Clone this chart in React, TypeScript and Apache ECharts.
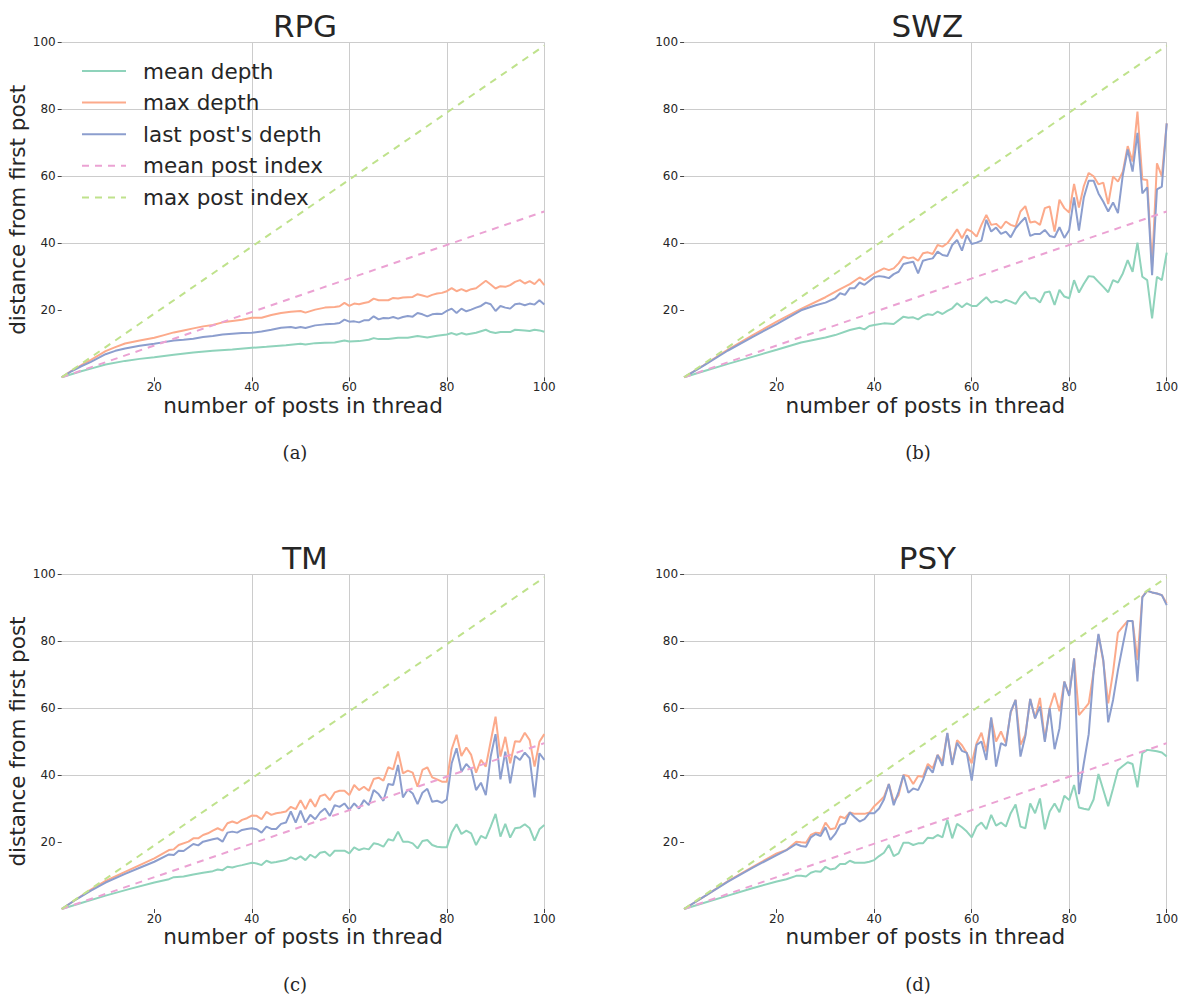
import React, { useEffect, useRef } from "react";
import * as echarts from "echarts";

type Pt = [number, number];

const PANEL_TITLES = ["RPG", "SWZ", "TM", "PSY"];
const PANEL_LETTERS = ["(a)", "(b)", "(c)", "(d)"];
const SERIES_NAMES = ["mean depth", "max depth", "last post's depth", "mean post index", "max post index"];
const X_TICKS = [20, 40, 60, 80, 100];
const Y_TICKS = [20, 40, 60, 80, 100];

// dashed reference lines (endpoints)
const meanPostIndex: Pt[] = [[1, 0], [100, 49.5]];
const maxPostIndex: Pt[] = [[1, 0], [100, 99]];

// ---- RPG ----
const rpgMean: Pt[] = [[1,0],[3,0.9],[5,1.8],[7,2.6],[10,3.8],[14,4.9],[17,5.5],[20,6],[24,6.7],[28,7.4],[32,7.9],[36,8.3],[40,8.8],[43,9.1],[47,9.6],[50,10],[51,9.8],[53,10.2],[55,10.3],[57,10.4],[59,11],[60,10.7],[62,10.8],[64,11.2],[65,11.7],[66,11.4],[68,11.4],[70,11.8],[72,11.8],[74,12.3],[76,11.9],[78,12.4],[80,12.8],[81,13.2],[82,12.7],[83,13.2],[84,12.8],[86,13.3],[88,14.2],[89,13.5],[90,13.2],[91,13.5],[93,13.5],[94,14.2],[96,14],[97,13.8],[98,14.2],[99,14],[100,13.6]];
const rpgMax: Pt[] = [[1,0],[3,1.9],[5,3.6],[7,5.2],[10,7.8],[12,9],[14,10.1],[17,11],[20,11.8],[22,12.6],[24,13.4],[26,14],[28,14.6],[30,15.2],[32,15.6],[34,16.4],[36,16.8],[38,17.2],[40,17.8],[42,17.8],[44,18.6],[46,19.2],[48,19.6],[50,19.8],[51,19.3],[53,20.2],[55,20.8],[57,21],[58,21.2],[59,22.2],[60,21.3],[61,22],[62,21.8],[63,22.2],[64,22.5],[65,23.5],[66,23],[67,23],[68,23],[69,23.7],[70,23.5],[71,23.8],[72,23.9],[73,24],[74,24.8],[75,24.4],[76,24],[77,24.6],[78,25],[79,25.2],[80,25.7],[81,26.6],[82,25.7],[83,26.3],[84,25.7],[85,26.3],[86,26.6],[87,27.7],[88,28.8],[89,27.7],[90,26.5],[91,27.2],[92,27],[93,27.5],[94,28.5],[95,29],[96,28],[97,28.7],[98,27.8],[99,29.3],[100,27.5]];
const rpgLast: Pt[] = [[1,0],[3,1.8],[5,3.3],[7,4.6],[10,6.9],[12,7.9],[14,8.6],[17,9.4],[20,10],[22,10.5],[24,11],[26,11.2],[28,11.5],[30,12],[32,12.3],[34,12.8],[36,13],[38,13.2],[40,13.3],[42,13.7],[44,14.2],[46,14.8],[48,15],[49,14.7],[50,15],[51,14.7],[53,15.5],[55,15.8],[57,16],[58,16.2],[59,17.2],[60,16.6],[61,16.7],[62,16.4],[63,17],[64,17],[65,18.2],[66,17.3],[67,17.7],[68,17.6],[69,18],[70,17.5],[71,18],[72,18.3],[73,18.1],[74,19.2],[75,18.8],[76,18.2],[77,18.8],[78,19],[79,18.9],[80,19.8],[81,20.5],[82,19.2],[83,20.5],[84,19.7],[85,20.2],[86,20.8],[87,21.3],[88,22.3],[89,21.8],[90,19.8],[91,21.3],[92,20.8],[93,20.5],[94,21.8],[95,22],[96,21.5],[97,22],[98,21.7],[99,23],[100,21.7]];

// ---- SWZ ----
const swzMean: Pt[] = [[1,0],[5,1.8],[10,4],[15,6.1],[20,8.2],[25,10.4],[30,11.9],[32,12.6],[35,14.1],[37,14.8],[38,14.3],[39,15.3],[40,15.6],[42,16.1],[44,15.9],[46,18.1],[47,17.8],[48,17.9],[49,17.3],[50,18.3],[51,18.8],[52,18.6],[53,19.6],[54,18.9],[55,19.8],[56,20.6],[57,22.1],[58,20.9],[59,22.1],[60,21.3],[61,21.3],[62,22.6],[63,23.9],[64,22.3],[65,22.8],[66,22.3],[67,23.1],[68,22.6],[69,21.9],[70,24.1],[71,25.6],[72,23.6],[73,23.6],[74,22.3],[75,25.3],[76,25.6],[77,21.6],[78,26.1],[79,24.1],[80,23.6],[81,29],[82,25.3],[83,27.9],[84,30.2],[85,30],[86,28.5],[87,27],[88,25.4],[89,29],[90,28.3],[91,31],[92,35],[93,31.5],[94,40.2],[95,30],[96,29],[97,17.6],[98,30],[99,29],[100,37.2]];
const swzMax: Pt[] = [[1,0],[5,3.6],[10,8.3],[15,12.5],[20,16.6],[25,20.4],[30,23.9],[33,26.3],[35,27.8],[37,29.8],[38,29],[40,31],[42,32.5],[43,32],[44,32.5],[45,34],[46,36],[47,35.5],[48,35.8],[49,34.8],[50,37],[51,37.3],[52,36.8],[53,39.5],[54,39],[55,40],[56,42],[57,44.2],[58,41.5],[59,44.2],[60,43.5],[61,42],[62,45.5],[63,48.5],[64,45.5],[65,45.8],[66,44.5],[67,46.5],[68,45.5],[69,45],[70,49.5],[71,51.1],[72,46.2],[73,46.5],[74,45.5],[75,50.5],[76,51],[77,43.5],[78,53],[79,50.5],[80,49.2],[81,57.7],[82,50.7],[83,57.1],[84,61],[85,60],[86,57.6],[87,58.1],[88,51.7],[89,60],[90,58.4],[91,61.4],[92,69],[93,64.4],[94,79.3],[95,59.1],[96,58.9],[97,33],[98,63.9],[99,60],[100,75.8]];
const swzLast: Pt[] = [[1,0],[5,3.5],[10,8],[15,12],[20,15.9],[25,20],[28,21.5],[30,22.3],[32,23.6],[33,25.1],[34,24.6],[35,26.6],[36,26.6],[37,28.3],[38,27.6],[40,29.9],[41,30.2],[42,30],[43,29.6],[44,30.8],[45,31.5],[46,33.8],[47,34.2],[48,34.5],[49,31],[50,34.8],[51,35.2],[52,35.5],[53,37.5],[54,36.5],[55,36.2],[56,39.5],[57,41],[58,37.8],[59,42.4],[60,39.8],[61,40.2],[62,40.8],[63,47],[64,43.5],[65,44.7],[66,42.8],[67,43.5],[68,41.8],[69,44.5],[70,46.2],[71,47.7],[72,42.2],[73,42.8],[74,42.8],[75,44],[76,42.2],[77,41.8],[78,44.8],[79,41.6],[80,44],[81,53.7],[82,43.8],[83,53.7],[84,58.7],[85,58.7],[86,54.9],[87,52.4],[88,49.5],[89,52.2],[90,49],[91,60.4],[92,68],[93,61.4],[94,73],[95,54.9],[96,56.7],[97,30.5],[98,56.1],[99,56.9],[100,75.8]];

// ---- TM ----
const tmMean: Pt[] = [[1,0],[5,1.8],[10,4],[15,6],[20,7.9],[23,8.9],[24,9.5],[26,9.7],[28,10.3],[30,10.8],[32,11.3],[33,11.8],[34,11.6],[35,12.6],[36,12.4],[37,12.8],[38,13.1],[40,13.8],[41,13.6],[42,13.1],[43,14.4],[44,13.8],[45,14],[46,14.3],[47,14.6],[48,15.4],[49,14.8],[50,15.7],[51,14.6],[52,16.2],[53,15.3],[54,16.8],[55,17.1],[56,15.8],[57,17.4],[58,17.4],[59,17.4],[60,16.6],[61,18.4],[62,17.6],[63,18.1],[64,17.8],[65,19.6],[66,19.3],[67,18.6],[68,20.8],[69,20.4],[70,23.1],[71,20.1],[72,20.1],[73,19.6],[74,18.1],[75,20.3],[76,20.6],[77,19.1],[78,18.6],[79,18.4],[80,18.4],[81,22.8],[82,25.3],[83,22.4],[84,23.4],[85,22.6],[86,19.1],[87,21.8],[88,21.1],[89,24.6],[90,28.4],[91,21.6],[92,25.4],[93,21.3],[94,24.1],[95,24.3],[96,25.3],[97,24.1],[98,20.4],[99,23.8],[100,25.1]];
const tmMax: Pt[] = [[1,0],[4,2.9],[7,5.8],[10,8.4],[14,11.1],[17,13.1],[20,15.1],[23,17.6],[24,17.8],[25,19.1],[27,20.1],[28,21.1],[29,21.1],[30,22.1],[31,22.6],[32,23.4],[33,24.1],[34,23.4],[35,25.6],[36,26.1],[37,25.6],[38,26.6],[39,27.1],[40,27.9],[41,27.8],[42,26.8],[43,29],[44,28.1],[45,28.6],[46,28.8],[47,29.1],[48,30.5],[49,29.8],[50,32.5],[51,29.8],[52,32.8],[53,30.5],[54,33.7],[55,34.2],[56,32.5],[57,34.8],[58,35.3],[59,35.3],[60,34],[61,37],[62,35.5],[63,36.5],[64,35.3],[65,38.8],[66,39.2],[67,38.3],[68,42.3],[69,41.7],[70,47],[71,40.5],[72,41.3],[73,40.7],[74,36.5],[75,41.5],[76,42.3],[77,39.3],[78,38.7],[79,38],[80,38],[81,47.7],[82,52],[83,45.7],[84,48.2],[85,46],[86,40.7],[87,44.5],[88,42.5],[89,50],[90,57.4],[91,45.5],[92,51.4],[93,43.5],[94,50.1],[95,49.9],[96,52.6],[97,50.4],[98,42.5],[99,49.9],[100,52.2]];
const tmLast: Pt[] = [[1,0],[4,2.9],[7,5.5],[10,7.9],[14,10.5],[17,12.3],[20,14.1],[23,16.3],[24,16.1],[25,17.4],[26,17.3],[28,19.4],[29,19],[30,20.1],[32,20.8],[33,21.1],[34,20.1],[35,22.8],[36,23.1],[37,22.8],[38,23.6],[39,23.9],[40,24.1],[41,23.8],[42,22.8],[43,24.6],[44,23.9],[45,23.9],[46,25.4],[47,25.8],[48,29.1],[49,25.8],[50,29.4],[51,25.8],[52,28.1],[53,26.8],[54,28.8],[55,30],[56,27.8],[57,31],[58,30.5],[59,31.5],[60,29.6],[61,31.5],[62,30],[63,32.5],[64,31],[65,35.5],[66,34.3],[67,32.3],[68,37.3],[69,37],[70,43],[71,33.3],[72,35.7],[73,34.5],[74,31.3],[75,34.7],[76,35.9],[77,32],[78,32.3],[79,31.7],[80,32.7],[81,43.5],[82,48],[83,41],[84,43.3],[85,41.7],[86,35.5],[87,37.7],[88,34],[89,45.5],[90,52.2],[91,38.7],[92,47],[93,37.5],[94,45.7],[95,44.5],[96,46.7],[97,45],[98,33.3],[99,46.5],[100,44.5]];

// ---- PSY ----
const psyMean: Pt[] = [[1,0],[5,1.8],[10,4],[15,6.2],[20,8.2],[22,8.9],[24,9.9],[25,9.9],[26,9.7],[27,10.8],[28,11.3],[29,11.1],[30,12.6],[31,11.8],[32,12.1],[33,13.4],[34,13.4],[35,14.4],[36,13.8],[37,13.8],[38,13.8],[39,14.1],[40,14.6],[41,15.8],[42,16.8],[43,19.1],[44,15.8],[45,16.6],[46,19.8],[47,19.8],[48,19.1],[49,19.6],[50,19.6],[51,21.3],[52,21.1],[53,22.1],[54,21.4],[55,26.6],[56,21.1],[57,25.4],[58,24.4],[59,23.1],[60,21.4],[61,24.6],[62,25.8],[63,23.8],[64,28.1],[65,24.9],[66,25.8],[67,24.6],[68,28.6],[69,31.2],[70,24.6],[71,24.1],[72,31.5],[73,28.6],[74,33],[75,23.8],[76,29.1],[77,31.5],[78,28.9],[79,33.8],[80,32.5],[81,37],[82,30.3],[83,29.9],[84,29.6],[85,32.7],[86,40.3],[87,35.5],[88,30.7],[89,36],[90,41.5],[91,42.7],[92,43.8],[93,43.3],[94,36.3],[95,46.5],[96,47.5],[97,47.3],[98,47.1],[99,46.7],[100,45.5]];
const psyMax: Pt[] = [[1,0],[5,3.6],[10,8.3],[15,12.5],[20,16.6],[22,17.6],[24,20.1],[25,19.9],[26,19.8],[27,22.1],[28,22.8],[29,22.6],[30,25.8],[31,23.8],[32,24.1],[33,27.6],[34,27.1],[35,28.8],[36,28.4],[37,28.4],[38,28.4],[39,28.8],[40,30.7],[41,32],[42,33.5],[43,37.3],[44,32],[45,34],[46,40],[47,39.7],[48,37.3],[49,39.7],[50,39.5],[51,43.3],[52,42],[53,46],[54,44],[55,52.4],[56,43.3],[57,50.4],[58,48.9],[59,46.5],[60,43.5],[61,49.5],[62,52.6],[63,47],[64,56.9],[65,50],[66,53],[67,49.5],[68,58.6],[69,62.4],[70,49],[71,52],[72,62.7],[73,56.9],[74,63],[75,50.4],[76,60],[77,64.5],[78,59],[79,67.9],[80,63.9],[81,74.8],[82,57.9],[83,59.6],[84,61.4],[85,70.8],[86,81.8],[87,73.8],[88,61.4],[89,70.8],[90,82.5],[91,84.3],[92,86],[93,86],[94,74.3],[95,93.2],[96,95],[97,94.5],[98,94.2],[99,93.7],[100,91.2]];
const psyLast: Pt[] = [[1,0],[5,3.6],[10,8.2],[15,12.3],[20,16.1],[22,17.6],[24,19.4],[25,18.8],[26,18.6],[27,21.4],[28,22.4],[29,21.8],[30,24.4],[31,20.6],[32,22.4],[33,25.1],[34,25.6],[35,28.8],[36,27.4],[37,26.1],[38,26.8],[39,28.6],[40,28.6],[41,30],[42,32.7],[43,37.3],[44,31],[45,35],[46,40],[47,34.7],[48,36],[49,35.5],[50,38.5],[51,42.5],[52,40.7],[53,46],[54,42.7],[55,52.6],[56,43],[57,49.6],[58,47.2],[59,46.6],[60,38.3],[61,49],[62,50],[63,44.5],[64,57.2],[65,42.5],[66,49.5],[67,48.7],[68,58.9],[69,62.4],[70,45.5],[71,51.6],[72,62.7],[73,56.9],[74,60.4],[75,49.9],[76,60],[77,47.7],[78,53.9],[79,67.9],[80,63.6],[81,74.8],[82,34.3],[83,43.5],[84,52.2],[85,70.8],[86,82.1],[87,74.3],[88,55.7],[89,62.4],[90,71.3],[91,78.8],[92,86],[93,86],[94,67.9],[95,93],[96,95],[97,94.5],[98,94.2],[99,93.7],[100,90.7]];

const PANEL_DATA: Pt[][][] = [
  [rpgMean, rpgMax, rpgLast, meanPostIndex, maxPostIndex],
  [swzMean, swzMax, swzLast, meanPostIndex, maxPostIndex],
  [tmMean, tmMax, tmLast, meanPostIndex, maxPostIndex],
  [psyMean, psyMax, psyLast, meanPostIndex, maxPostIndex],
];

const COLORS = ["#8fd3bb", "#fcaa8b", "#8c9ece", "#eba2d3", "#bfe28c"];
const DASHED = [false, false, false, true, true];

const GRIDS = [
  { left: 61.7, top: 42.3, width: 482.6, height: 335 },
  { left: 684.1, top: 42.3, width: 482.6, height: 335 },
  { left: 61.7, top: 574, width: 482.6, height: 335 },
  { left: 684.1, top: 574, width: 482.6, height: 335 },
];

const SANS = "DejaVu Sans";
const TEXT = "#262626";

export default function App() {
  const ref = useRef<HTMLDivElement>(null);
  useEffect(() => {
    if (!ref.current) return;
    const chart = echarts.init(ref.current, null, { renderer: "svg" });
    const series: any[] = [];
    PANEL_DATA.forEach((panel, p) => {
      panel.forEach((data, s) => {
        series.push({
          type: "line",
          name: SERIES_NAMES[s],
          xAxisIndex: p,
          yAxisIndex: p,
          data,
          symbol: "none",
          showSymbol: false,
          silent: true,
          z: 2 + s,
          lineStyle: {
            color: COLORS[s],
            width: 2,
            type: DASHED[s] ? [7, 6] : "solid",
          },
          itemStyle: { color: COLORS[s] },
        });
      });
    });
    const option: any = {
      animation: false,
      backgroundColor: "#ffffff",
      title: GRIDS.map((g, i) => ({
        text: PANEL_TITLES[i],
        left: g.left + g.width / 2 + 2,
        top: g.top - 32,
        padding: 0,
        textAlign: "center",
        textStyle: { fontSize: 31, fontWeight: "normal", fontFamily: SANS, color: TEXT },
      })),
      legend: {
        left: 81,
        top: 59,
        padding: 0,
        orient: "vertical",
        itemWidth: 44,
        itemHeight: 14,
        itemGap: 7.6,
        selectedMode: false,
        data: SERIES_NAMES,
        itemStyle: { opacity: 0, color: "transparent", borderColor: "transparent", borderWidth: 0 },
        textStyle: { fontSize: 21.5, fontFamily: SANS, color: TEXT, lineHeight: 24, padding: [0, 0, 0, 12] },
      },
      grid: GRIDS.map((g) => ({ ...g, containLabel: false })),
      xAxis: GRIDS.map((_, i) => ({
        type: "value",
        gridIndex: i,
        min: 1,
        max: 100,
        splitNumber: 5,
        name: "number of posts in thread",
        nameLocation: "middle",
        nameGap: 7,
        nameTextStyle: { fontSize: 21.5, fontFamily: SANS, color: TEXT },
        axisLine: { show: false },
        axisTick: { show: true, length: 4, customValues: X_TICKS, lineStyle: { color: "#444" } },
        axisLabel: {
          customValues: X_TICKS,
          fontSize: 12,
          fontFamily: SANS,
          color: TEXT,
          margin: 4,
          formatter: (v: number) => (v === 1 ? "" : String(v)),
        },
        splitLine: { show: true, showMinLine: false, lineStyle: { color: "#cccccc", width: 1 } },
      })),
      yAxis: GRIDS.map((_, i) => ({
        type: "value",
        gridIndex: i,
        min: 0,
        max: 100,
        interval: 20,
        name: i % 2 === 0 ? "distance from first post" : "",
        nameLocation: "middle",
        nameGap: 22,
        nameTextStyle: { fontSize: 21.5, fontFamily: SANS, color: TEXT },
        axisLine: { show: false },
        axisTick: { show: true, length: 4, customValues: Y_TICKS, lineStyle: { color: "#444" } },
        axisLabel: {
          customValues: Y_TICKS,
          fontSize: 12,
          fontFamily: SANS,
          color: TEXT,
          margin: 6,
          formatter: (v: number) => (v === 0 ? "" : String(v)),
        },
        splitLine: { show: true, showMinLine: false, lineStyle: { color: "#cccccc", width: 1 } },
      })),
      graphic: PANEL_LETTERS.map((t, i) => ({
        type: "text",
        x: i % 2 === 0 ? 295 : 918,
        y: i < 2 ? 452 : 984,
        style: {
          text: t,
          fontSize: 18,
          fontFamily: "DejaVu Serif",
          fill: TEXT,
          align: "center",
          verticalAlign: "middle",
        },
      })),
      series,
    };
    chart.setOption(option);
    return () => chart.dispose();
  }, []);
  return (
    <div
      ref={ref}
      style={{ position: "absolute", left: 0, top: 0, width: 1189, height: 999 }}
    />
  );
}
